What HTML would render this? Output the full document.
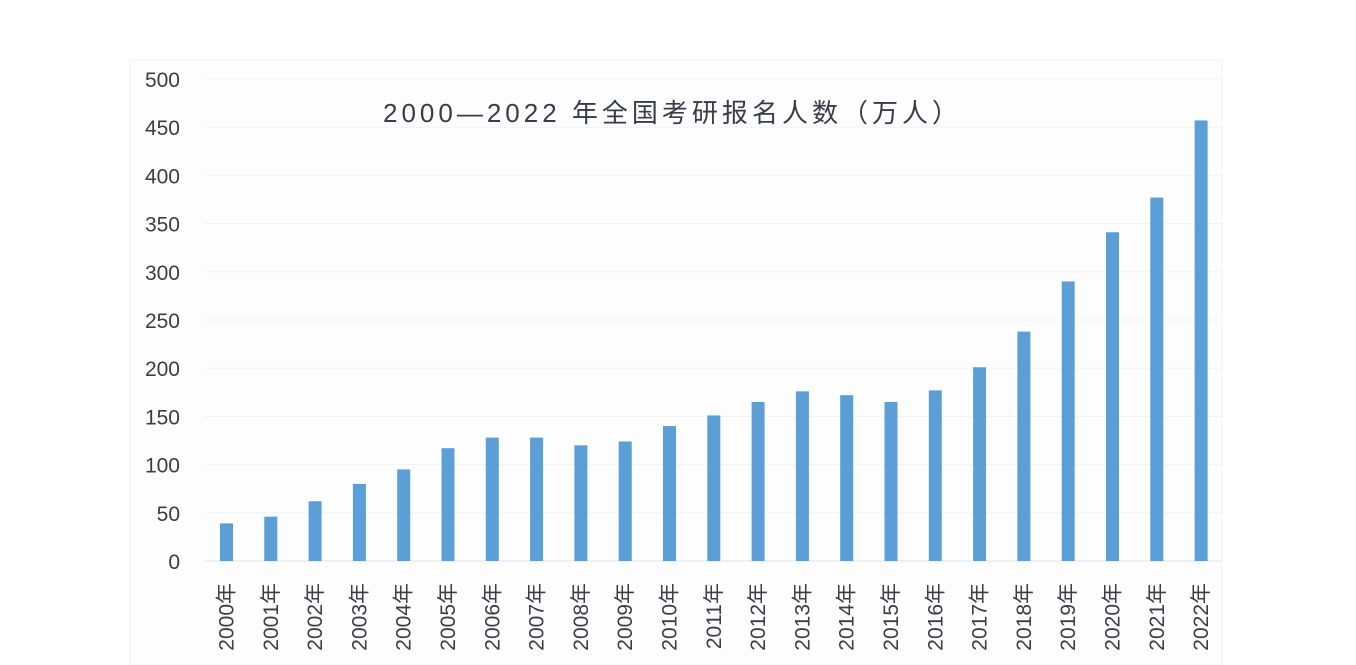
<!DOCTYPE html>
<html><head><meta charset="utf-8"><style>
body{margin:0;background:#fff;}
svg{display:block;font-family:"Liberation Sans","Noto Sans CJK SC",sans-serif;}
</style></head><body>
<svg id="chart" width="1356" height="665" viewBox="0 0 1356 665">
<rect x="0" y="0" width="1356" height="665" fill="#ffffff"/>
<rect x="130" y="60" width="1092" height="605" fill="#fdfdfe" stroke="#f0f2f5"/>
<text x="383" y="122" font-size="26" fill="#3a3a4a" textLength="575" lengthAdjust="spacing">2000—2022 年全国考研报名人数（万人）</text>
<g id="grid"></g><g id="yaxis"></g><g id="bars"></g><g id="xaxis"></g>
</svg>
<script>
const categories=["2000","2001","2002","2003","2004","2005","2006","2007","2008","2009","2010","2011","2012","2013","2014","2015","2016","2017","2018","2019","2020","2021","2022"];
const values=[39,46,62,80,95,117,128,128,120,124,140,151,165,176,172,165,177,201,238,290,341,377,457];
const yTicks=[0,50,100,150,200,250,300,350,400,450,500];
const NS="http://www.w3.org/2000/svg";
const y0=561,y1=79,yMax=500;
const y=v=>y0-(v/yMax)*(y0-y1);
const xStart=226.5,xStep=44.3;
const x=i=>xStart+i*xStep;
function mk(t,a,p){const e=document.createElementNS(NS,t);for(const k in a)e.setAttribute(k,a[k]);p.appendChild(e);return e;}
const grid=document.getElementById('grid'),ya=document.getElementById('yaxis'),bars=document.getElementById('bars'),xa=document.getElementById('xaxis');
yTicks.forEach(v=>{
 const l=mk('line',{x1:205,x2:1222,y1:y(v),y2:y(v),stroke:v===0?'#dde3ea':'#eef1f5','stroke-width':1},grid);
 
 
 const t=mk('text',{x:180,y:y(v)+8,'text-anchor':'end','font-size':21,fill:'#3c3c48'},ya);
 t.textContent=v;
 
 
});
categories.forEach((c,i)=>{
 const r=mk('rect',{x:x(i)-6.5,y:y(values[i]),width:13,height:y0-y(values[i]),fill:'#5b9fd6'},bars);
 
 
 const t=mk('text',{transform:`translate(${x(i)+7},583) rotate(-90)`,'text-anchor':'end','font-size':21,fill:'#3c3c48'},xa);
 t.textContent=c+'年';
 
 
});
</script>
</body></html>
